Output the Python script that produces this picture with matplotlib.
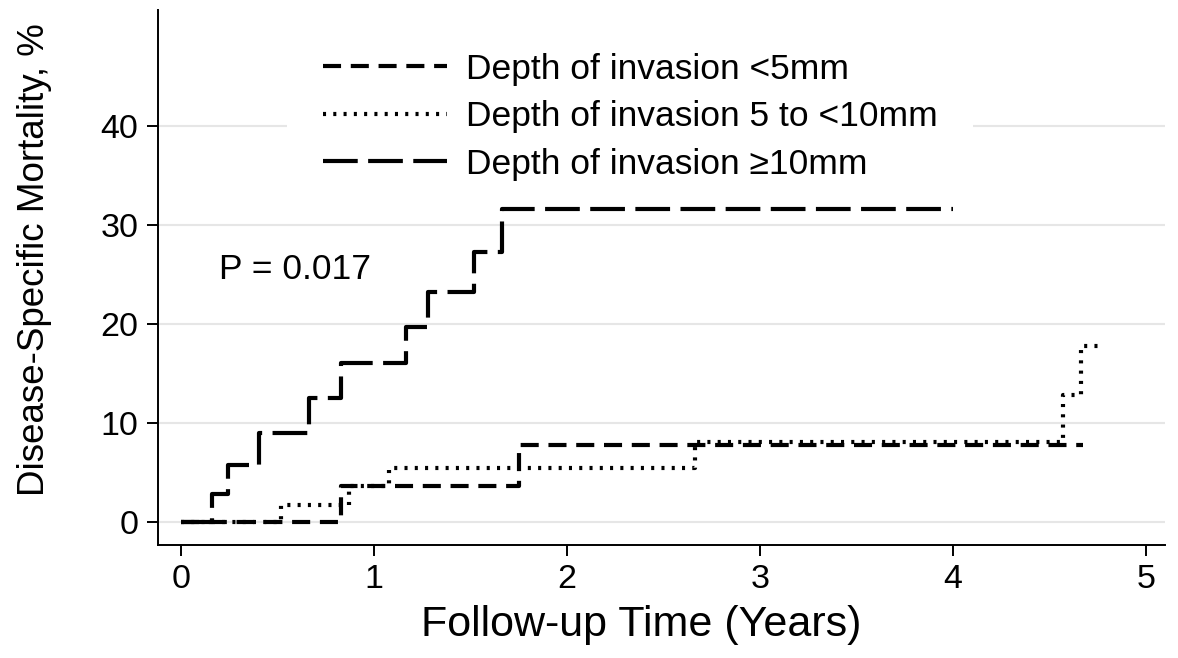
import matplotlib
matplotlib.use("Agg")
import matplotlib.pyplot as plt

plt.rcParams['font.family'] = ['Liberation Sans', 'DejaVu Sans']
plt.rcParams['lines.scale_dashes'] = False

# Data (years, cumulative mortality %)
t_lt5 = [0, 0.83, 1.75, 4.67]
y_lt5 = [0, 3.6, 7.8, 7.8]

t_mid = [0, 0.52, 0.87, 1.08, 2.665, 4.57, 4.66, 4.76]
y_mid = [0, 1.7, 3.6, 5.4, 8.1, 12.85, 17.75, 17.75]

t_ge10 = [0, 0.16, 0.247, 0.405, 0.664, 0.83, 1.165, 1.279, 1.519, 1.662, 4.0]
y_ge10 = [0, 2.8, 5.7, 9.0, 12.5, 16.05, 19.75, 23.25, 27.35, 31.65, 31.65]

labels = ["Depth of invasion <5mm", "Depth of invasion 5 to <10mm", "Depth of invasion \u226510mm"]
xticks = [0, 1, 2, 3, 4, 5]
yticks = [0, 10, 20, 30, 40]
p_text = "P = 0.017"

fig = plt.figure(figsize=(11.78, 6.58), dpi=100)
ax = fig.add_axes([0.134, 0.172, 0.855, 0.813])

lw = 3.0
ax.step(t_lt5, y_lt5, where='post', color='black', lw=lw, zorder=6,
        linestyle=(0, (13, 7)), dash_capstyle='butt', label=labels[0])
ax.step(t_mid, y_mid, where='post', color='black', lw=lw, zorder=6,
        linestyle=(0, (2.2, 5.2)), dash_capstyle='butt', label=labels[1])
ax.step(t_ge10, y_ge10, where='post', color='black', lw=lw, zorder=6,
        linestyle=(0, (25, 7.5)), dash_capstyle='butt', label=labels[2])

ax.set_xlim(-0.118, 5.097)
ax.set_ylim(-2.33, 51.8)
ax.set_xticks(xticks)
ax.set_yticks(yticks)
ax.tick_params(axis='both', direction='out', length=8, width=1.4, labelsize=24.5, pad=6)
ax.yaxis.grid(True, color='#e6e6e6', lw=1.5)
ax.set_axisbelow(True)
for s in ['top', 'right']:
    ax.spines[s].set_visible(False)
for s in ['left', 'bottom']:
    ax.spines[s].set_linewidth(1.4)

ax.set_xlabel("Follow-up Time (Years)", fontsize=31)
ax.xaxis.set_label_coords(0.48, -0.113)
ax.set_ylabel("Disease-Specific Mortality, %", fontsize=26.5)
ax.yaxis.set_label_coords(-0.105, 0.533)

ax.text(0.20, 25.5, p_text, fontsize=25.5, va='center', ha='left')

leg = ax.legend(loc='upper left', bbox_to_anchor=(0.111, 1.019), fontsize=25.5,
                handlelength=3.5, handletextpad=0.55, labelspacing=0.41,
                borderpad=1.0, frameon=True, framealpha=1, facecolor='white',
                edgecolor='none', fancybox=False)

fig.savefig("out.png", dpi=100)
